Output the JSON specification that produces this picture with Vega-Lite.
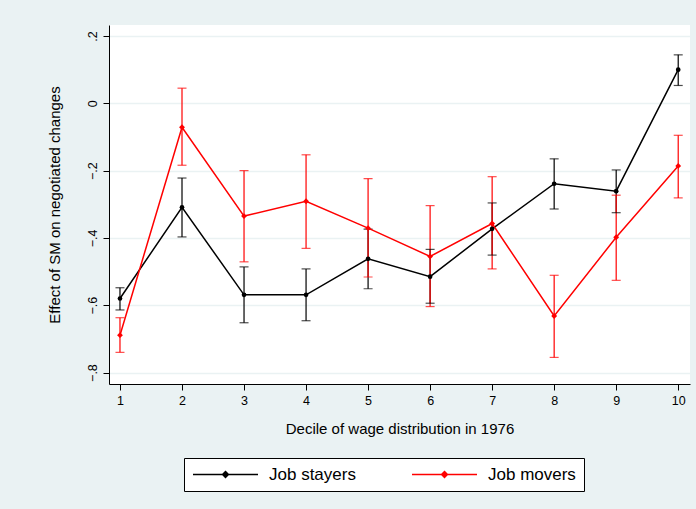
{
  "$schema": "https://vega.github.io/schema/vega-lite/v6.json",
  "width": 581,
  "height": 359,
  "autosize": {"type": "none"},
  "padding": {"left": 109, "top": 25, "right": 6, "bottom": 125},
  "background": "#EAF2F3",
  "config": {
    "view": {"fill": "white", "stroke": null},
    "font": "Liberation Sans",
    "axis": {
      "domainColor": "#000000",
      "domainWidth": 1,
      "tickColor": "#000000",
      "tickWidth": 1,
      "labelColor": "#000000",
      "titleColor": "#000000",
      "labelFont": "Liberation Sans",
      "titleFont": "Liberation Sans",
      "labelFontSize": 12.5,
      "titleFontSize": 15,
      "titleFontWeight": "normal"
    }
  },
  "data": {
    "values": [
      {"decile": 1, "group": "Job stayers", "est": -0.580, "lo": -0.614, "hi": -0.548},
      {"decile": 2, "group": "Job stayers", "est": -0.309, "lo": -0.397, "hi": -0.222},
      {"decile": 3, "group": "Job stayers", "est": -0.569, "lo": -0.652, "hi": -0.486},
      {"decile": 4, "group": "Job stayers", "est": -0.569, "lo": -0.646, "hi": -0.492},
      {"decile": 5, "group": "Job stayers", "est": -0.462, "lo": -0.551, "hi": -0.374},
      {"decile": 6, "group": "Job stayers", "est": -0.515, "lo": -0.594, "hi": -0.434},
      {"decile": 7, "group": "Job stayers", "est": -0.373, "lo": -0.451, "hi": -0.296},
      {"decile": 8, "group": "Job stayers", "est": -0.239, "lo": -0.314, "hi": -0.165},
      {"decile": 9, "group": "Job stayers", "est": -0.261, "lo": -0.325, "hi": -0.198},
      {"decile": 10, "group": "Job stayers", "est": 0.100, "lo": 0.053, "hi": 0.144},
      {"decile": 1, "group": "Job movers", "est": -0.689, "lo": -0.740, "hi": -0.637},
      {"decile": 2, "group": "Job movers", "est": -0.071, "lo": -0.184, "hi": 0.045},
      {"decile": 3, "group": "Job movers", "est": -0.335, "lo": -0.471, "hi": -0.200},
      {"decile": 4, "group": "Job movers", "est": -0.291, "lo": -0.431, "hi": -0.153},
      {"decile": 5, "group": "Job movers", "est": -0.371, "lo": -0.516, "hi": -0.224},
      {"decile": 6, "group": "Job movers", "est": -0.455, "lo": -0.604, "hi": -0.304},
      {"decile": 7, "group": "Job movers", "est": -0.357, "lo": -0.492, "hi": -0.218},
      {"decile": 8, "group": "Job movers", "est": -0.632, "lo": -0.755, "hi": -0.511},
      {"decile": 9, "group": "Job movers", "est": -0.398, "lo": -0.526, "hi": -0.273},
      {"decile": 10, "group": "Job movers", "est": -0.186, "lo": -0.281, "hi": -0.095}
    ]
  },
  "encoding": {
    "x": {
      "field": "decile", "type": "quantitative",
      "scale": {"domain": [0.823, 10.19], "nice": false, "zero": false},
      "axis": {
        "title": "Decile of wage distribution in 1976",
        "values": [1, 2, 3, 4, 5, 6, 7, 8, 9, 10],
        "grid": false, "tickSize": 6, "labelPadding": 4, "titlePadding": 15,
        "labelFlush": false
      }
    },
    "color": {
      "field": "group", "type": "nominal",
      "scale": {"domain": ["Job stayers", "Job movers"], "range": ["#000000", "#FF0000"]},
      "legend": {
        "title": null,
        "orient": "none",
        "legendX": 75,
        "legendY": 433,
        "direction": "horizontal",
        "padding": 8,
        "columnPadding": 55,
        "clipHeight": 17,
        "strokeColor": "#000000",
        "fillColor": "#FFFFFF",
        "labelFont": "Liberation Sans",
        "labelFontSize": 17,
        "labelColor": "#000000",
        "labelOffset": 10,
        "symbolType": "M-1,0H1M0,-0.09L0.09,0L0,0.09L-0.09,0Z",
        "symbolSize": 4225,
        "symbolStrokeWidth": 1.5,
        "encode": {
          "symbols": {
            "update": {
              "fill": {"scale": "color", "field": "value"},
              "stroke": {"scale": "color", "field": "value"},
              "strokeWidth": {"value": 1.5},
              "opacity": {"value": 1}
            }
          }
        }
      }
    }
  },
  "layer": [
    {
      "mark": {"type": "rule", "strokeWidth": 1.2},
      "encoding": {
        "y": {
          "field": "lo", "type": "quantitative",
          "scale": {"domain": [-0.834, 0.2327], "nice": false, "zero": false},
          "axis": {
            "title": "Effect of SM on negotiated changes",
            "values": [-0.8, -0.6, -0.4, -0.2, 0, 0.2],
            "labelExpr": "replace(format(datum.value, '.1~f'), '0.', '.')",
            "labelAngle": 270, "labelAlign": "center", "labelBaseline": "alphabetic",
            "tickSize": 6, "labelPadding": 7, "titlePadding": 24,
            "grid": true, "gridColor": "#EAF2F3", "gridWidth": 1.5
          }
        },
        "y2": {"field": "hi"}
      }
    },
    {
      "mark": {"type": "tick", "orient": "horizontal", "size": 9, "thickness": 1.2},
      "encoding": {"y": {"field": "lo", "type": "quantitative"}}
    },
    {
      "mark": {"type": "tick", "orient": "horizontal", "size": 9, "thickness": 1.2},
      "encoding": {"y": {"field": "hi", "type": "quantitative"}}
    },
    {
      "mark": {"type": "line", "strokeWidth": 1.5},
      "encoding": {
        "y": {"field": "est", "type": "quantitative"}
      }
    },
    {
      "transform": [{"filter": "datum.group === 'Job stayers'"}],
      "mark": {"type": "point", "filled": true, "opacity": 1, "shape": "circle", "size": 22},
      "encoding": {
        "y": {"field": "est", "type": "quantitative"}
      }
    },
    {
      "transform": [{"filter": "datum.group === 'Job movers'"}],
      "mark": {"type": "point", "filled": true, "opacity": 1, "shape": "diamond", "size": 34},
      "encoding": {
        "y": {"field": "est", "type": "quantitative"}
      }
    }
  ]
}
